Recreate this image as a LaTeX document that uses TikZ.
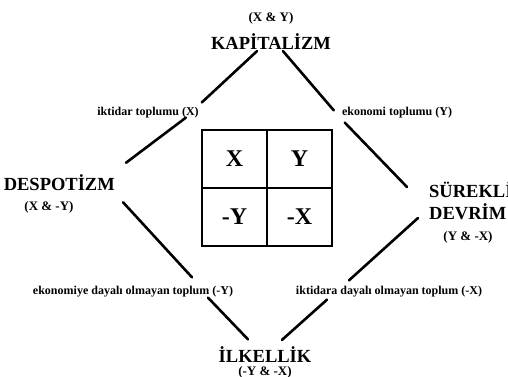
\documentclass[tikz,border=0pt]{standalone}
\usepackage{fontspec}
\setmainfont{Liberation Serif}
\usetikzlibrary{positioning}
\tikzset{
    pole/.style={inner sep=1pt, font=\fontsize{18.5}{22}\selectfont\bfseries},
    pair/.style={inner sep=1pt, font=\fontsize{13}{14}\selectfont\bfseries},
    society/.style={inner sep=1pt, font=\fontsize{12}{14}\selectfont\bfseries},
    cell/.style={draw, rectangle, line width=2.2pt, outer sep=0pt, inner sep=0pt, minimum width=65pt, minimum height=58pt, font=\fontsize{24}{26}\selectfont\bfseries},
    edge/.style={line width=2.6pt, line cap=round}
}

\begin{document}
\begin{tikzpicture}[x=1pt, y=1pt]
        \useasboundingbox (0,0) rectangle (508,376);
        \clip (0,0) rectangle (508,376);

        % i quattro poli
        \node (kap) [pole] at (271,334) {KAPİTALİZM};
        \node (kapxy) [pair] at (271,358) {(X \& Y)};
        \node (desp) [pole, anchor=east] at (116,193) {DESPOTİZM};
        \node (despxy) [pair] at (49,169) {(X \& -Y)};
        \node (surek) [pole, anchor=west, align=left] at (428,175) {SÜREKLİ\\DEVRİM};
        \node (surekxy) [pair] at (468,139) {(Y \& -X)};
        \node (ilk) [pole] at (265,21) {İLKELLİK};
        \node (ilkxy) [pair] at (265,4) {(-Y \& -X)};

        % etichette sui lati
        \node (lx) [society] at (148,263) {iktidar toplumu (X)};
        \node (ly) [society] at (397,263) {ekonomi toplumu (Y)};
        \node (lny) [society] at (133,84) {ekonomiye dayalı olmayan toplum (-Y)};
        \node (lnx) [society] at (389,84) {iktidara dayalı olmayan toplum (-X)};

        % tabella centrale
        \node (cx) [cell] at (234.5,217) {X};
        \node (cy) [cell, right=0pt of cx] {Y};
        \node (cny) [cell, below=0pt of cx] {-Y};
        \node (cnx) [cell, right=0pt of cny] {-X};

        % lati del rombo
        \draw [edge] ([xshift=-14]kap.south) -- ([shift={(2,4)}]lx.north east);
        \draw [edge] ([shift={(-14,2)}]lx.south east) -- ([shift={(10,11)}]desp.north east);
        \draw [edge] ([xshift=12]kap.south) -- ([shift={(-7,-4)}]ly.north west);
        \draw [edge] ([shift={(4,-3)}]ly.south west) -- ([shift={(-21,14)}]surek.west);
        \draw [edge] ([shift={(7,-10)}]desp.south east) -- ([shift={(59,8)}]lny.north);
        \draw [edge] ([shift={(75,1)}]lny.south) -- ([shift={(-17,6.5)}]ilk.north);
        \draw [edge] ([shift={(-10,-17)}]surek.west) -- ([shift={(-40,5)}]lnx.north);
        \draw [edge] ([shift={(-62,-1)}]lnx.south) -- ([shift={(17,6)}]ilk.north);

    \end{tikzpicture}
\end{document}
